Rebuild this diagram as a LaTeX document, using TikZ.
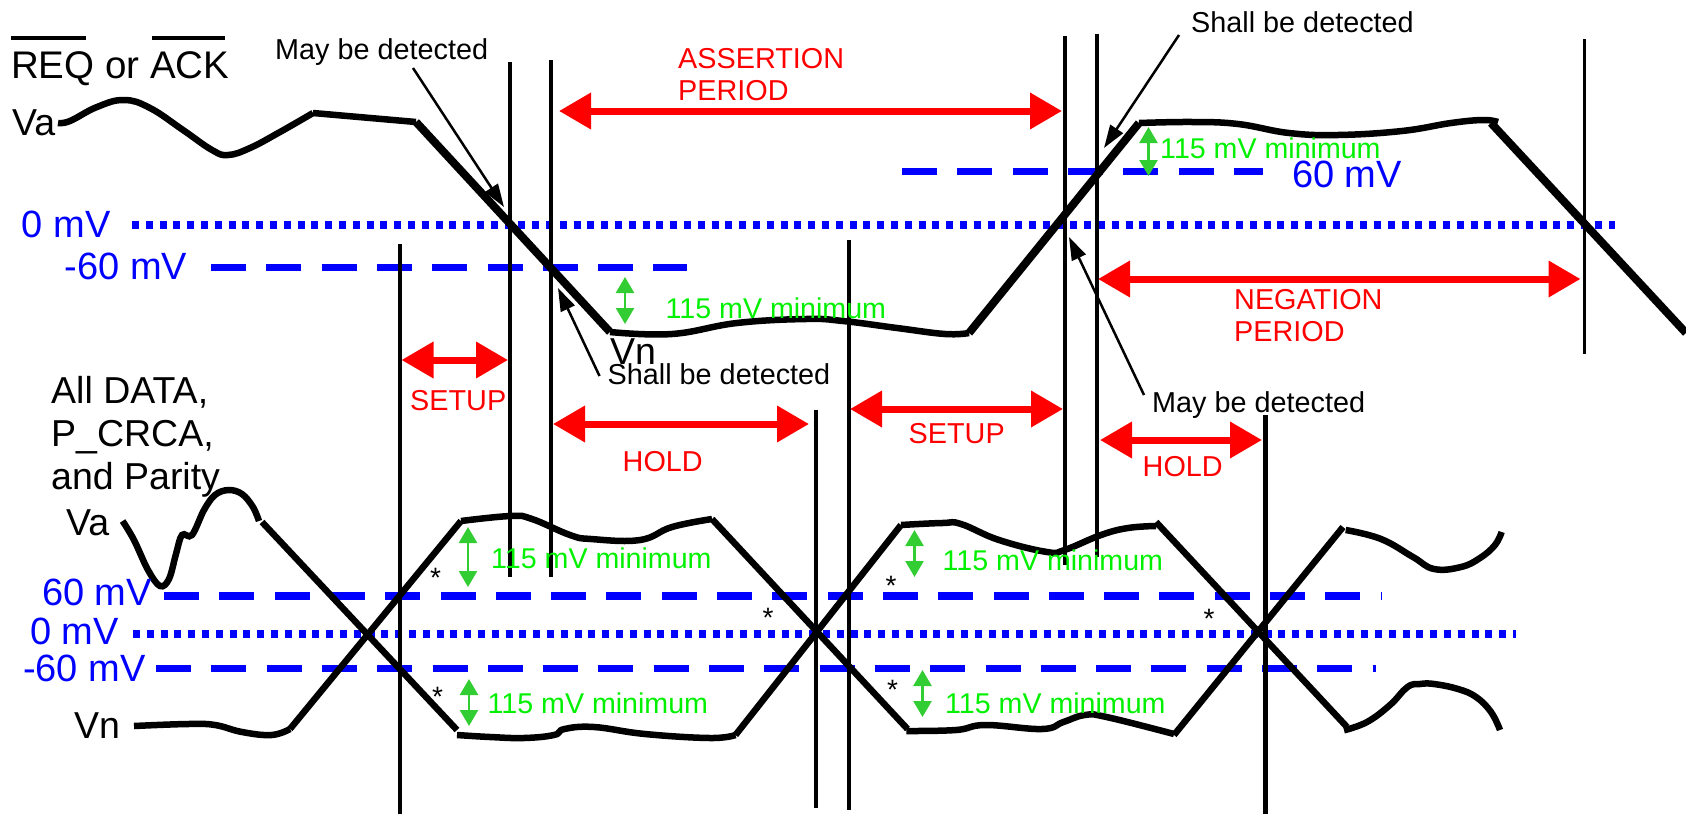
\documentclass[tikz,border=0pt]{standalone}
\usepackage{fontspec}
\setmainfont{Liberation Sans}
\usetikzlibrary{arrows.meta}
\definecolor{arrowgreen}{RGB}{50,205,50}
\definecolor{textgreen}{RGB}{0,240,0}
\tikzset{
	lab/.style={anchor=base west,inner sep=0pt,font=\fontsize{37.5}{43}\selectfont},
	note/.style={anchor=base west,inner sep=0pt,align=left,font=\fontsize{28.8}{32}\selectfont},
	rednote/.style={note,text=red},
	minnote/.style={anchor=base west,inner sep=0pt,text=textgreen,font=\fontsize{28.6}{32}\selectfont},
	bluelab/.style={lab,text=blue,font=\fontsize{38}{43}\selectfont},
	star/.style={anchor=base,inner sep=0pt,font=\fontsize{28}{32}\selectfont},
	wave/.style={line width=6.5pt},
	steepwave/.style={line width=8pt},
	strobe/.style={line width=4pt},
	dashlevel/.style={blue,line width=7.5pt,dash pattern=on 35pt off 20.3pt},
	dotlevel/.style={blue,line width=8pt,dash pattern=on 7pt off 6.8pt},
	redspan/.style={red,line width=7pt,{Triangle[length=32pt,width=35pt]}-{Triangle[length=32pt,width=35pt]}},
	minspan/.style={arrowgreen,line width=2.5pt,{Triangle[length=16pt,width=18pt]}-{Triangle[length=16pt,width=18pt]}},
	leader/.style={line width=2.5pt,-{Triangle[length=23pt,width=15pt]}},
}
\begin{document}
\begin{tikzpicture}[x=1pt,y=-1pt]
		\useasboundingbox (0,0) rectangle (1686,814);
		% levels
		\draw[dotlevel] (132,225) -- (1615,225);
		\draw[dashlevel] (211,267.5) -- (687,267.5);
		\draw[dashlevel] (902,171.5) -- (1263,171.5);
		\draw[dashlevel] (164,596) -- (1382,596);
		\draw[dotlevel] (133,634) -- (1516,634);
		\draw[dashlevel] (156,668.5) -- (1376,668.5);
		% strobes
		\draw[strobe] (399.5,244) -- (399.5,814);
		\draw[strobe] (510,62) -- (510,577);
		\draw[strobe] (551,60) -- (551,577);
		\draw[strobe,line width=3.5pt] (816,410) -- (816,808);
		\draw[strobe] (848.5,240) -- (848.5,810);
		\draw[strobe] (1064.5,36) -- (1064.5,565);
		\draw[strobe,line width=3.5pt] (1097,34) -- (1097,557);
		\draw[strobe,line width=4.5pt] (1265.5,415) -- (1265.5,814);
		\draw[strobe,line width=3.5pt] (1584.5,39) -- (1584.5,354);
		% REQ or ACK trace
		\draw[wave] plot[smooth,tension=.7] coordinates {(58,123) (70,121) (97,107) (124,100) (150,108) (183,130) (212,150) (228,155) (250,148) (280,132) (313,113)};
		\draw[wave] (313,113) -- (416,122);
		\draw[steepwave] (416,122) -- (610,332);
		\draw[wave] plot[smooth,tension=.7] coordinates {(610,332) (672,334) (737,323) (806,319) (843,321) (897,328) (945,334) (969,333)};
		\draw[steepwave] (969,333) -- (1139,123);
		\draw[wave] plot[smooth,tension=.7] coordinates {(1139,123) (1192,122) (1238,124) (1289,133) (1338,135) (1402,131) (1451,123) (1483,120) (1498,122)};
		\draw[steepwave] (1491,123) -- (1686,333);
		% data traces
		\draw[wave] plot[smooth,tension=.6] coordinates {(122.6,521) (134,540) (148,570) (160,586) (169,579) (176,554) (182,535) (192,535) (204,510) (215,495) (228.5,490) (242,494) (253,507) (259,521)};
		\draw[wave] (262,522) -- (457,730);
		\draw[wave] plot[smooth,tension=.7] coordinates {(134,726) (188,724) (215,725) (242,732) (271.5,735) (290,729)};
		\draw[wave] (290,729) -- (461,521);
		\draw[wave] plot[smooth,tension=.7] coordinates {(461,521) (511,516) (532,519) (570,535) (591,539) (640,540) (672,527) (712,519)};
		\draw[wave] (712,519) -- (907.5,729);
		\draw[wave] plot[smooth,tension=.7] coordinates {(457,735) (490,737) (524,738) (554,735) (564.5,729) (594,727) (645,734) (710,738) (735.5,735)};
		\draw[wave] (735.5,735) -- (901,525);
		\draw[wave] plot[smooth,tension=.7] coordinates {(901,525) (942.5,523) (961,524) (999,540) (1047,552) (1064.5,550) (1101,535) (1128,528) (1156,526)};
		\draw[wave] (1156,522) -- (1347,727);
		\draw[wave] plot[smooth,tension=.7] coordinates {(906.4,731) (956,730) (985.5,725) (1042,729) (1063.4,722) (1085,715) (1106.5,717) (1174,734)};
		\draw[wave] (1174,735) -- (1343,527);
		\draw[wave] plot[smooth,tension=.7] coordinates {(1345.7,530) (1381,539) (1413,557) (1434,569) (1461,567) (1480,558) (1495,545) (1501.6,532)};
		\draw[wave] plot[smooth,tension=.7] coordinates {(1344,730.3) (1367,722) (1390,705) (1407.5,687) (1420,684) (1434,684) (1458,689) (1476,697) (1491,712) (1500,730)};
		% timing spans
		\draw[redspan] (559,111) -- (1062,111);
		\draw[redspan] (401.5,360) -- (508,360);
		\draw[redspan] (553,424) -- (809,424);
		\draw[redspan] (850,409) -- (1063,409);
		\draw[redspan] (1100,440) -- (1262,440);
		\draw[redspan] (1098,279) -- (1580.5,279);
		% 115 mV spans
		\draw[minspan] (625,277) -- (625,324);
		\draw[minspan] (1148.5,127) -- (1148.5,176);
		\draw[minspan] (468,527) -- (468,587);
		\draw[minspan] (469,679) -- (469,726);
		\draw[minspan] (914.5,530) -- (914.5,577);
		\draw[minspan] (922.5,670) -- (922.5,717);
		% labels
		\node[lab,font=\fontsize{38.5}{43}\selectfont] (reqack) at (11,78) {REQ or ACK};
		\draw[line width=4pt] (11,37.5) -- (86,37.5);
		\draw[line width=4pt] (152,37.5) -- (225,37.5);
		\node[lab] (vatop) at (12,135) {Va};
		\node[lab] (vntop) at (610,364) {Vn};
		\node[bluelab] (zerotop) at (21.5,237) {0 mV};
		\node[bluelab] (negtop) at (64.5,279) {-60 mV};
		\node[bluelab] (postop) at (1292,187) {60 mV};
		\node[lab] (alldata) at (51,403) {All DATA,};
		\node[lab] (pcrca) at (51,446) {P\_CRCA,};
		\node[lab] (parity) at (51,489) {and Parity};
		\node[lab] (vabot) at (66,535) {Va};
		\node[lab] (vnbot) at (74,738) {Vn};
		\node[bluelab] (posbot) at (42,605) {60 mV};
		\node[bluelab] (zerobot) at (30,644) {0 mV};
		\node[bluelab] (negbot) at (23,681) {-60 mV};
		\node[rednote] (assertion) at (678,100) {ASSERTION\\PERIOD};
		\node[rednote] (negation) at (1234,341) {NEGATION\\PERIOD};
		\node[rednote] (setupa) at (410,410.5) {SETUP};
		\node[rednote] (holda) at (622.5,471) {HOLD};
		\node[rednote] (setupb) at (908.5,443) {SETUP};
		\node[rednote] (holdb) at (1142.5,476) {HOLD};
		\node[minnote] (mina) at (665.5,318) {115 mV minimum};
		\node[minnote] (minb) at (1160,158) {115 mV minimum};
		\node[minnote] (minc) at (491,568) {115 mV minimum};
		\node[minnote] (mind) at (487.5,713.5) {115 mV minimum};
		\node[minnote] (mine) at (942.5,570) {115 mV minimum};
		\node[minnote] (minf) at (945,713.5) {115 mV minimum};
		\node[star] (stara) at (435.5,587) {*};
		\node[star] (starb) at (768,627) {*};
		\node[star] (starc) at (437.5,706) {*};
		\node[star] (stard) at (891,595) {*};
		\node[star] (stare) at (1209,628) {*};
		\node[star] (starf) at (892.5,699) {*};
		% detection notes
		\node[note] (maya) at (275,59) {May be detected};
		\node[note] (shalla) at (607.5,384) {Shall be detected};
		\node[note] (shallb) at (1191,32) {Shall be detected};
		\node[note] (mayb) at (1152,412) {May be detected};
		\coordinate (mayafrom) at (413,68);
		\coordinate (mayato) at (504,207);
		\coordinate (shallafrom) at (599.5,376);
		\coordinate (shallato) at (558,288);
		\coordinate (shallbfrom) at (1179,35);
		\coordinate (shallbto) at (1104,148);
		\coordinate (maybfrom) at (1144,395);
		\coordinate (maybto) at (1069,237);
		\draw[leader] (mayafrom) -- (mayato);
		\draw[leader] (shallafrom) -- (shallato);
		\draw[leader] (shallbfrom) -- (shallbto);
		\draw[leader] (maybfrom) -- (maybto);
\end{tikzpicture}
\end{document}
